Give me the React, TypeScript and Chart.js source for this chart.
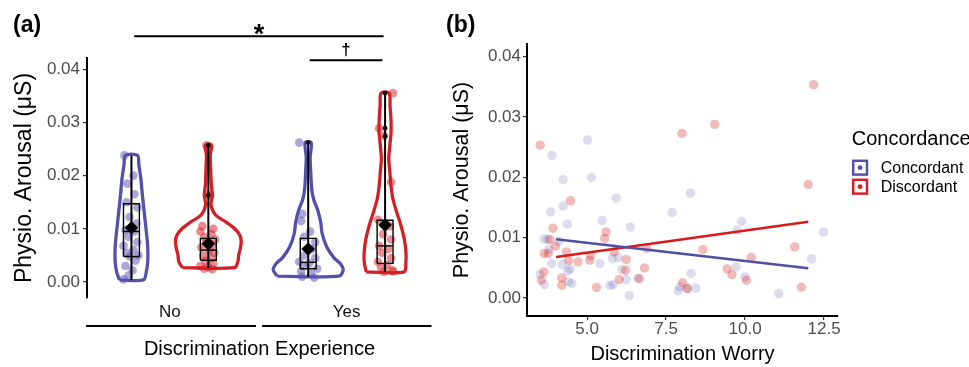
import React, { useEffect, useRef } from "react";
import { Chart, registerables } from "chart.js";

Chart.register(...registerables);

const FONT = "'Liberation Sans', Arial, Helvetica, sans-serif";
const BLUE = "#5252ac";
const RED = "#d51f26";
const AXIS_TEXT = "#4d4d4d";

// ---------------- Panel (a): violins by discrimination experience ----------------
const experienceGroups = ["No", "Yes"];
const concordanceGroups = ["Concordant", "Discordant"];
const arousalTicks = [0, 0.01, 0.02, 0.03, 0.04];
const dodge = 0.2175;

// violin outlines: arousal levels and half widths (category units)
const violinNoConcY = [0.0004, 0.0019, 0.0038, 0.0057, 0.0076, 0.0101, 0.0132, 0.0163, 0.0195, 0.022, 0.0238];
const violinNoConcW = [0.068, 0.084, 0.092, 0.093, 0.09, 0.082, 0.072, 0.062, 0.053, 0.042, 0.034];
const violinNoDiscY = [0.0027, 0.0038, 0.0051, 0.0063, 0.0076, 0.0088, 0.0101, 0.0113, 0.0126, 0.0145, 0.0163, 0.0182, 0.0214, 0.0239, 0.0257];
const violinNoDiscW = [0.147, 0.167, 0.172, 0.181, 0.186, 0.178, 0.147, 0.099, 0.041, 0.015, 0.023, 0.017, 0.013, 0.011, 0.017];
const violinYesConcY = [0.0011, 0.0023, 0.0035, 0.0045, 0.0066, 0.0091, 0.0112, 0.0135, 0.0155, 0.0175, 0.021, 0.0235, 0.0262];
const violinYesConcW = [0.175, 0.198, 0.181, 0.147, 0.105, 0.079, 0.071, 0.054, 0.031, 0.02, 0.014, 0.011, 0.017];
const violinYesDiscY = [0.0019, 0.0038, 0.0057, 0.0082, 0.0107, 0.0132, 0.0157, 0.0182, 0.0207, 0.0232, 0.0257, 0.0282, 0.0307, 0.0332, 0.0355];
const violinYesDiscW = [0.107, 0.118, 0.118, 0.108, 0.089, 0.065, 0.044, 0.033, 0.027, 0.021, 0.027, 0.034, 0.033, 0.028, 0.023];

// jittered observations (arousal, horizontal jitter in category units)
const pointsNoConcY = [0.0238, 0.02, 0.0185, 0.0165, 0.015, 0.014, 0.0122, 0.011, 0.0098, 0.0095, 0.0085, 0.0075, 0.0068, 0.006, 0.0055, 0.005, 0.0048, 0.004, 0.003, 0.0022, 0.0012, 0.0005];
const pointsNoConcJ = [-0.04, 0.011, -0.023, 0.017, -0.028, 0.034, -0.011, 0.028, -0.034, 0.017, -0.017, 0.034, -0.045, 0.011, -0.028, 0.04, -0.011, 0.023, -0.034, 0.006, -0.017, -0.045];
const pointsNoDiscY = [0.0257, 0.0255, 0.0165, 0.0162, 0.0105, 0.01, 0.0095, 0.009, 0.0085, 0.008, 0.0075, 0.007, 0.0065, 0.006, 0.0055, 0.005, 0.0045, 0.004, 0.0035, 0.003, 0.0028, 0.0025, 0.0024];
const pointsNoDiscJ = [-0.011, 0.006, -0.006, 0.011, -0.034, 0.028, -0.045, 0.017, -0.023, 0.04, -0.011, 0.023, -0.04, 0.006, 0.034, -0.028, 0.017, -0.017, 0.028, -0.045, 0, -0.023, 0.023];
const pointsYesConcY = [0.0262, 0.0128, 0.0115, 0.0095, 0.0085, 0.0075, 0.0062, 0.005, 0.0045, 0.0038, 0.0035, 0.003, 0.0025, 0.002, 0.0015, 0.001, 0.0008];
const pointsYesConcJ = [-0.051, -0.034, -0.04, 0.011, -0.023, 0.04, 0.023, -0.023, 0.04, -0.051, 0.006, -0.028, 0.051, -0.04, 0.017, -0.034, 0.034];
const pointsYesDiscY = [0.0355, 0.0289, 0.0275, 0.0188, 0.0117, 0.0105, 0.009, 0.008, 0.0068, 0.0062, 0.0055, 0.0045, 0.0038, 0.0032, 0.0028, 0.0022, 0.0019, 0.002];
const pointsYesDiscJ = [0.045, -0.034, -0.006, 0.034, -0.04, 0.028, -0.011, 0.034, -0.034, 0.017, -0.017, 0.034, -0.04, 0.011, -0.023, 0.04, -0.006, 0.045];

// box-plot summaries, order: No/Concordant, No/Discordant, Yes/Concordant, Yes/Discordant
const boxMin = [0.0004, 0.0026, 0.001, 0.0019];
const boxQ1 = [0.0048, 0.0041, 0.0025, 0.0035];
const boxMedian = [0.0095, 0.006, 0.0037, 0.0068];
const boxQ3 = [0.0147, 0.0082, 0.0082, 0.0116];
const boxMax = [0.0238, 0.0257, 0.0262, 0.0355];
const groupMeans = [0.0102, 0.0072, 0.0062, 0.0107];
const boxOutliers = [[], [0.0257, 0.0163], [0.0262], [0.0355, 0.0289, 0.0274]];

// significance brackets (x in category units, y in arousal units)
const bracketX1 = [0.798, 1.791];
const bracketX2 = [2.209, 2.202];
const bracketY = [0.0462, 0.0417];
const bracketLabels = ["*", "\u2020"];
// group underlines below the category labels
const underlineX1 = [0.526, 1.522];
const underlineX2 = [1.487, 2.48];
const underlineY = -0.00826;

// ---------------- Panel (b): scatter vs discrimination worry ----------------
const worryTicks = [5, 7.5, 10, 12.5];
const concWorry = [5.011, 3.889, 4.241, 5.139, 5.919, 8.269, 4.241, 3.846, 7.692, 5.481, 4.37, 6.368, 9.893, 9.754, 12.479, 3.643, 3.75, 4.113, 3.793, 3.878, 4.22, 5.406, 5.983, 5.801, 4.455, 4.391, 6.1, 3.515, 3.643, 4.412, 4.519, 5.726, 5.823, 6.229, 6.335, 6.603, 8.291, 7.885, 7.938, 8.44, 8.173, 9.712, 10.0, 11.068, 12.105];
const concArousal = [0.02617, 0.02362, 0.01964, 0.01997, 0.01654, 0.01737, 0.01521, 0.01427, 0.01416, 0.01284, 0.01223, 0.01173, 0.01267, 0.01123, 0.0109, 0.00979, 0.00968, 0.0094, 0.00802, 0.0057, 0.00553, 0.0057, 0.00669, 0.00653, 0.00481, 0.00443, 0.0047, 0.00387, 0.00221, 0.00266, 0.00238, 0.00205, 0.00221, 0.00304, 0.00039, 0.00321, 0.00404, 0.00116, 0.00183, 0.0016, 0.00155, 0.00515, 0.00349, 0.00072, 0.00647];
const discWorry = [3.515, 8.002, 9.038, 12.169, 11.998, 4.476, 3.921, 5.598, 5.556, 3.996, 3.643, 3.771, 4.348, 8.665, 11.571, 5.107, 5.085, 4.412, 4.712, 6.239, 6.891, 10.192, 6.816, 6.218, 9.434, 9.583, 8.024, 8.173, 10.043, 6.015, 6.656, 5.299, 11.784, 4.199, 4.199, 3.632, 3.558, 3.825, 5.855];
const discArousal = [0.02534, 0.02728, 0.02877, 0.03535, 0.01881, 0.0161, 0.01156, 0.01095, 0.00985, 0.00858, 0.00736, 0.00736, 0.00763, 0.00802, 0.00846, 0.00703, 0.00625, 0.00625, 0.00598, 0.00636, 0.00819, 0.00669, 0.00498, 0.00459, 0.00481, 0.00387, 0.00249, 0.00155, 0.00293, 0.00304, 0.00321, 0.00172, 0.00177, 0.00332, 0.0021, 0.00432, 0.00293, 0.00968, 0.00763];
const fitWorry = [4.02, 12.0];
const concFitArousal = [0.00974, 0.00493];
const discFitArousal = [0.0068, 0.01262];

// ---------------- helpers ----------------
function violinPolygon(center: number, levels: number[], widths: number[]) {
  const left = levels.map((y, i) => ({ x: center - widths[i], y }));
  const right = levels.map((y, i) => ({ x: center + widths[i], y })).reverse();
  return [...left, ...right, left[0]];
}

function configA(): any {
  const centers = [1 - dodge, 1 + dodge, 2 - dodge, 2 + dodge];
  const colors = [BLUE, RED, BLUE, RED];
  const pointFills = ["rgba(90,80,180,0.5)", "rgba(215,30,35,0.5)", "rgba(90,80,180,0.5)", "rgba(215,30,35,0.5)"];
  const violinY = [violinNoConcY, violinNoDiscY, violinYesConcY, violinYesDiscY];
  const violinW = [violinNoConcW, violinNoDiscW, violinYesConcW, violinYesDiscW];
  const ptsY = [pointsNoConcY, pointsNoDiscY, pointsYesConcY, pointsYesDiscY];
  const ptsJ = [pointsNoConcJ, pointsNoDiscJ, pointsYesConcJ, pointsYesDiscJ];
  const boxHalf = 0.045;
  const datasets: any[] = [];
  centers.forEach((c, i) => {
    datasets.push({
      label: `violin ${experienceGroups[Math.floor(i / 2)]} ${concordanceGroups[i % 2]}`,
      data: violinPolygon(c, violinY[i], violinW[i]),
      showLine: true, borderColor: colors[i], borderWidth: 3.3, pointRadius: 0,
      tension: 0.3, fill: false, order: 10,
    });
    datasets.push({
      label: "points",
      data: ptsY[i].map((y, j) => ({ x: c + ptsJ[i][j], y })),
      showLine: false, pointRadius: 4.3, pointBackgroundColor: pointFills[i], pointBorderWidth: 0, order: 8,
    });
    datasets.push({
      label: "box",
      data: [
        { x: c - boxHalf, y: boxQ1[i] }, { x: c - boxHalf, y: boxQ3[i] },
        { x: c + boxHalf, y: boxQ3[i] }, { x: c + boxHalf, y: boxQ1[i] }, { x: c - boxHalf, y: boxQ1[i] },
      ],
      showLine: true, borderColor: "#000", borderWidth: 1.4, pointRadius: 0, tension: 0, order: 6,
    });
    datasets.push({
      label: "median",
      data: [{ x: c - boxHalf, y: boxMedian[i] }, { x: c + boxHalf, y: boxMedian[i] }],
      showLine: true, borderColor: "#000", borderWidth: 1.4, pointRadius: 0, order: 6,
    });
    datasets.push({
      label: "range",
      data: [{ x: c, y: boxMin[i] }, { x: c, y: boxMax[i] }],
      showLine: true, borderColor: "#000", borderWidth: 2, pointRadius: 0, order: 5,
    });
    datasets.push({
      label: "outliers",
      data: boxOutliers[i].map((y) => ({ x: c, y })),
      showLine: false, pointRadius: 2.4, pointBackgroundColor: "#111", pointBorderWidth: 0, order: 4,
    });
    datasets.push({
      label: "mean",
      data: [{ x: c, y: groupMeans[i] }],
      showLine: false, pointStyle: "rectRot", pointRadius: 6.8, pointBackgroundColor: "#000", pointBorderWidth: 0, order: 1,
    });
  });

  const plugin = {
    id: "panelA",
    afterDraw(chart: any) {
      const { ctx, scales } = chart;
      const x = scales.x, y = scales.y;
      ctx.save();
      ctx.fillStyle = "#000";
      ctx.textAlign = "left";
      ctx.textBaseline = "alphabetic";
      ctx.font = `bold 23px ${FONT}`;
      ctx.fillText("(a)", 13, 32);
      ctx.strokeStyle = "#000";
      ctx.lineWidth = 2;
      bracketY.forEach((bv, i) => {
        const py = y.getPixelForValue(bv);
        const x1 = x.getPixelForValue(bracketX1[i]);
        const x2 = x.getPixelForValue(bracketX2[i]);
        ctx.beginPath(); ctx.moveTo(x1, py); ctx.lineTo(x2, py); ctx.stroke();
        ctx.textAlign = "center";
        if (i === 0) { ctx.font = `bold 27px ${FONT}`; ctx.fillText(bracketLabels[i], (x1 + x2) / 2, py + 7); }
        else { ctx.font = `bold 17px ${FONT}`; ctx.fillText(bracketLabels[i], (x1 + x2) / 2, py - 5); }
      });
      const uy = y.getPixelForValue(underlineY);
      underlineX1.forEach((ux, i) => {
        ctx.beginPath();
        ctx.moveTo(x.getPixelForValue(ux), uy);
        ctx.lineTo(x.getPixelForValue(underlineX2[i]), uy);
        ctx.stroke();
      });
      ctx.restore();
    },
  };

  return {
    type: "scatter",
    data: { datasets },
    plugins: [plugin],
    options: {
      responsive: false, animation: false, devicePixelRatio: 1, events: [],
      layout: { padding: { left: 0, right: 8, top: 58, bottom: 0 } },
      plugins: { legend: { display: false }, tooltip: { enabled: false } },
      scales: {
        x: {
          type: "linear", min: 0.531, max: 2.483,
          afterBuildTicks: (s: any) => { s.ticks = experienceGroups.map((_, i) => ({ value: i + 1 })); },
          afterFit: (s: any) => { s.height = 69; },
          grid: { display: false, drawTicks: false, tickLength: 0 },
          border: { display: false },
          ticks: {
            padding: 6, maxRotation: 0, autoSkip: false,
            font: { family: FONT, size: 17, lineHeight: 1 }, color: "#111",
            callback: (v: any) => experienceGroups[Math.round(v) - 1] ?? "",
          },
          title: {
            display: true, text: "Discrimination Experience", color: "#000",
            font: { family: FONT, size: 20, lineHeight: 1.2 }, padding: { top: 0, bottom: 6 },
          },
        },
        y: {
          type: "linear", min: -0.003, max: 0.0421,
          afterBuildTicks: (s: any) => { s.ticks = arousalTicks.map((v) => ({ value: v })); },
          afterFit: (s: any) => { s.width = 87; },
          grid: { display: true, drawOnChartArea: false, drawTicks: true, tickLength: 4, color: "#333", lineWidth: 1.2 },
          border: { display: true, color: "#000", width: 2 },
          ticks: {
            padding: 3, font: { family: FONT, size: 17 }, color: AXIS_TEXT,
            callback: (v: any) => Number(v).toFixed(2),
          },
          title: {
            display: true, text: "Physio. Arousal (\u03bcS)", color: "#000",
            font: { family: FONT, size: 23, lineHeight: 1.2 }, padding: { top: 11, bottom: 0 },
          },
        },
      },
    },
  };
}

function configB(): any {
  const datasets: any[] = [
    {
      label: "Concordant line", data: fitWorry.map((x, i) => ({ x, y: concFitArousal[i] })),
      showLine: true, borderColor: "#4f4fa8", borderWidth: 2.5, pointRadius: 0, order: 1,
    },
    {
      label: "Discordant line", data: fitWorry.map((x, i) => ({ x, y: discFitArousal[i] })),
      showLine: true, borderColor: "#d7191c", borderWidth: 2.5, pointRadius: 0, order: 1,
    },
    {
      label: concordanceGroups[1], data: discWorry.map((x, i) => ({ x, y: discArousal[i] })),
      showLine: false, pointRadius: 4.7, pointBackgroundColor: "rgba(215,25,28,0.3)", pointBorderWidth: 0, order: 4,
    },
    {
      label: concordanceGroups[0], data: concWorry.map((x, i) => ({ x, y: concArousal[i] })),
      showLine: false, pointRadius: 4.7, pointBackgroundColor: "rgba(80,80,168,0.2)", pointBorderWidth: 0, order: 5,
    },
  ];

  const plugin = {
    id: "panelB",
    afterDraw(chart: any) {
      const { ctx } = chart;
      ctx.save();
      ctx.fillStyle = "#000";
      ctx.textAlign = "left";
      ctx.textBaseline = "alphabetic";
      ctx.font = `bold 23px ${FONT}`;
      ctx.fillText("(b)", 6, 32);
      // legend
      ctx.textBaseline = "middle";
      ctx.font = `20px ${FONT}`;
      ctx.fillText("Concordance", 411.7, 139.5);
      const keyColors = [BLUE, RED];
      const rowY = [167.7, 186.7];
      concordanceGroups.forEach((g, i) => {
        ctx.fillStyle = "#fff";
        ctx.fillRect(412, rowY[i] - 8, 16, 16);
        ctx.strokeStyle = keyColors[i];
        ctx.lineWidth = 2.5;
        ctx.strokeRect(413.2, rowY[i] - 6.9, 13.8, 13.8);
        ctx.fillStyle = keyColors[i];
        ctx.beginPath(); ctx.arc(420.1, rowY[i], 2.4, 0, Math.PI * 2); ctx.fill();
        ctx.fillStyle = "#000";
        ctx.font = `16px ${FONT}`;
        ctx.fillText(g, 440.7, rowY[i] + 1);
      });
      ctx.restore();
    },
  };

  return {
    type: "scatter",
    data: { datasets },
    plugins: [plugin],
    options: {
      responsive: false, animation: false, devicePixelRatio: 1, events: [],
      layout: { padding: { left: 0, right: 131, top: 44, bottom: 0 } },
      plugins: { legend: { display: false }, tooltip: { enabled: false } },
      scales: {
        x: {
          type: "linear", min: 3.098, max: 12.94,
          afterBuildTicks: (s: any) => { s.ticks = worryTicks.map((v) => ({ value: v })); },
          afterFit: (s: any) => { s.height = 51; },
          grid: { display: true, drawOnChartArea: false, drawTicks: true, tickLength: 4, color: "#333", lineWidth: 1.2 },
          border: { display: true, color: "#000", width: 2 },
          ticks: {
            padding: 1, maxRotation: 0, autoSkip: false,
            font: { family: FONT, size: 17, lineHeight: 1 }, color: AXIS_TEXT,
            callback: (v: any) => Number(v).toFixed(1),
          },
          title: {
            display: true, text: "Discrimination Worry", color: "#000",
            font: { family: FONT, size: 20, lineHeight: 1.2 }, padding: { top: 0, bottom: 1 },
          },
        },
        y: {
          type: "linear", min: -0.003, max: 0.0421,
          afterBuildTicks: (s: any) => { s.ticks = arousalTicks.map((v) => ({ value: v })); },
          afterFit: (s: any) => { s.width = 87; },
          grid: { display: true, drawOnChartArea: false, drawTicks: true, tickLength: 4, color: "#333", lineWidth: 1.2 },
          border: { display: true, color: "#000", width: 2 },
          ticks: {
            padding: 2, font: { family: FONT, size: 17 }, color: AXIS_TEXT,
            callback: (v: any) => Number(v).toFixed(2),
          },
          title: {
            display: true, text: "Physio. Arousal (\u03bcS)", color: "#000",
            font: { family: FONT, size: 21.5, lineHeight: 1.2 }, padding: { top: 9, bottom: 0 },
          },
        },
      },
    },
  };
}

export default function App() {
  const refA = useRef<HTMLCanvasElement>(null);
  const refB = useRef<HTMLCanvasElement>(null);
  useEffect(() => {
    document.body.style.margin = "0";
    const a = new Chart(refA.current as HTMLCanvasElement, configA());
    const b = new Chart(refB.current as HTMLCanvasElement, configB());
    return () => {
      a.destroy();
      b.destroy();
    };
  }, []);
  return (
    <div style={{ position: "relative", width: 969, height: 367, background: "#fff" }}>
      <canvas ref={refA} width={440} height={367} style={{ position: "absolute", left: 0, top: 0 }} />
      <canvas ref={refB} width={529} height={367} style={{ position: "absolute", left: 440, top: 0 }} />
    </div>
  );
}
